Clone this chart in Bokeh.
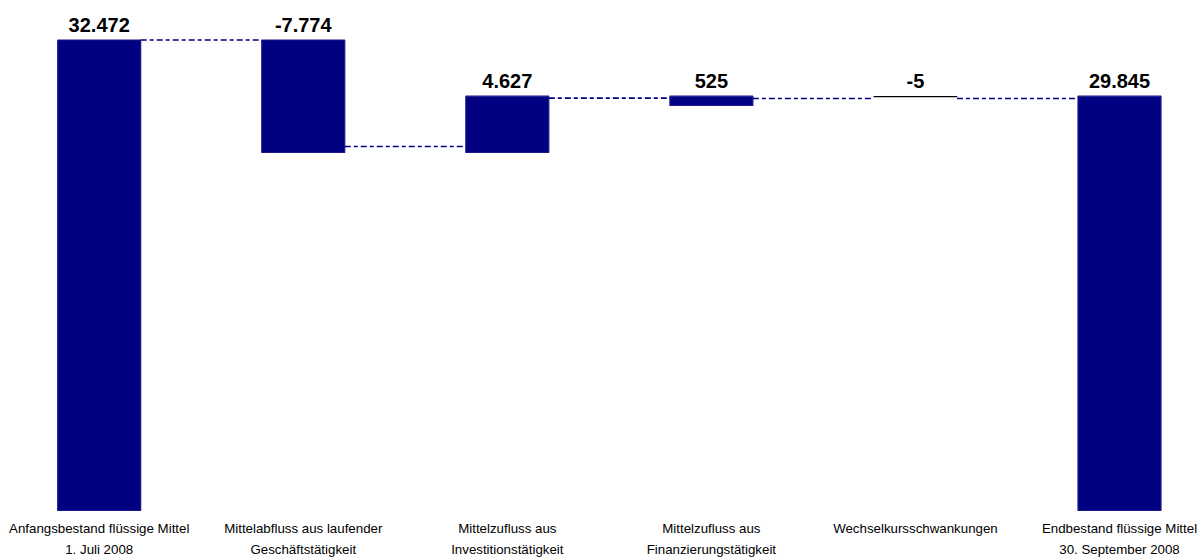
from bokeh.plotting import figure
from bokeh.models import Range1d, ColumnDataSource
from bokeh.core.properties import value
from bokeh.embed import file_html
from bokeh.resources import INLINE

# ---- data ----
categories = [
    "Anfangsbestand flüssige Mittel\n1. Juli 2008",
    "Mittelabfluss aus laufender\nGeschäftstätigkeit",
    "Mittelzufluss aus\nInvestitionstätigkeit",
    "Mittelzufluss aus\nFinanzierungstätigkeit",
    "Wechselkursschwankungen",
    "Endbestand flüssige Mittel\n30. September 2008",
]
value_labels = ["32.472", "-7.774", "4.627", "525", "-5", "29.845"]
# bar extents as drawn in the picture (thousands, Mio. units)
bar_low = [0, 24709, 24709, 27955, 28569, 0]
bar_high = [32472, 32472, 28595, 28595, 28574, 28595]
# levels of the dashed connectors between neighbouring bars
connector_level = [32472, 25124, 28457, 28436, 28436]

W, H = 1199, 557
px_x = 204.06            # pixels per category
x0_px = 98.7             # pixel of first category centre
per_px = 32472 / 470.5   # data units per pixel
zero_px = 510            # pixel row of zero line

p = figure(width=W, height=H, output_backend="svg", toolbar_location=None,
           x_range=Range1d(-x0_px / px_x, (W - x0_px) / px_x),
           y_range=Range1d(-(H - zero_px) * per_px, 32472 + 39.5 * per_px),
           min_border=0, min_border_left=0, min_border_right=0,
           min_border_top=0, min_border_bottom=0)
p.axis.visible = False
p.grid.visible = False
p.outline_line_color = None
p.background_fill_color = "white"
p.border_fill_color = "white"

n = len(categories)
xs = list(range(n))
bw = 83 / px_x
fills = ["#000080"] * n
lines = ["#1a1a8c"] * n
fills[4] = "white"
lines[4] = "black"

src = ColumnDataSource(dict(
    left=[x - bw / 2 for x in xs], right=[x + bw / 2 for x in xs],
    bottom=bar_low, top=bar_high, fill=fills, line=lines))
p.quad(left="left", right="right", bottom="bottom", top="top",
       fill_color="fill", line_color="line", line_width=1.2, source=src)

# connectors
p.segment(x0=[x + bw / 2 for x in xs[:-1]], x1=[x + 1 - bw / 2 for x in xs[:-1]],
          y0=connector_level, y1=connector_level,
          line_color="#000080", line_width=1.6, line_dash="6 3 4 3")

# value labels
p.text(x=xs, y=[h + 15.5 * per_px for h in bar_high], text=value_labels,
       text_font=value("Liberation Sans"), text_font_style="bold",
       text_font_size="20px", text_align="center", text_baseline="middle",
       text_color="black")

# category labels (two lines)
line1 = [c.split("\n")[0] for c in categories]
line2 = [c.split("\n")[1] if "\n" in c else "" for c in categories]
p.text(x=xs, y=[-(528 - zero_px) * per_px] * n, text=line1,
       text_font=value("Liberation Sans"), text_font_size="13.3px",
       text_align="center", text_baseline="middle", text_color="black")
p.text(x=xs, y=[-(549 - zero_px) * per_px] * n, text=line2,
       text_font=value("Liberation Sans"), text_font_size="13.3px",
       text_align="center", text_baseline="middle", text_color="black")

open("out.html", "w").write(file_html(p, INLINE))
